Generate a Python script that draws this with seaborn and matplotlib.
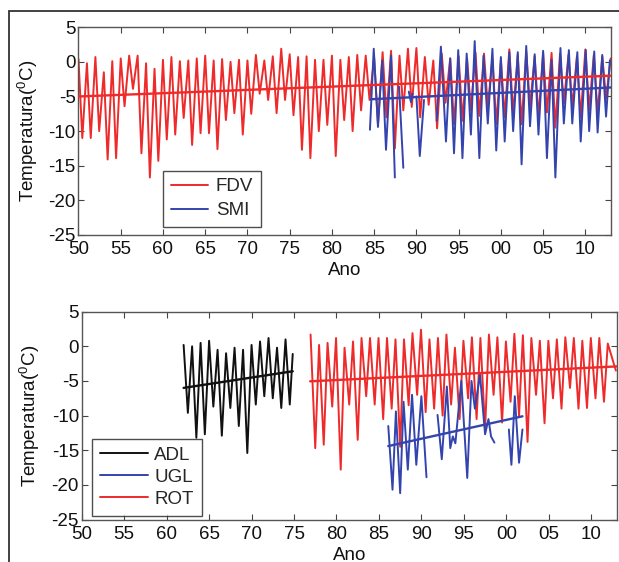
import numpy as np
import pandas as pd
import matplotlib
matplotlib.use("Agg")
import matplotlib.pyplot as plt
import seaborn as sns
from matplotlib.lines import Line2D
from matplotlib.patches import Rectangle

# ---------------- data ----------------
# Top panel: FDV (red), annual summer peaks (Jan) and winter troughs (mid-year)
fdv_peak_years = list(range(1950, 2014))
fdv_peaks = [0.4, -0.2, 0.7, -1.5, 0.1, 0.5, 0.9, 0.9, -0.2, -1.0,
             0.3, 0.7, 0.1, 0.2, 0.5, 0.9, 0.2, 0.4, 0.0, 0.3,
             0.2, 1.0, 0.2, 0.8, 1.9, 1.1, 0.7, 0.8, 0.3, 0.3,
             0.9, 0.3, 0.7, 1.0, 0.9, 0.6, 1.4, 1.6, 0.9, 1.9,
             2.0, 0.7, 0.2, 1.2, 0.5, 0.8, 0.5, 1.3, 1.2, 0.5,
             0.3, 1.8, 1.0, 1.5, 0.8, 1.3, 1.3, 1.2, 1.0, 0.8,
             1.8, 1.0, 0.8, 0.5]
fdv_trough_years = list(range(1950, 2013))
fdv_troughs = [-11.0, -11.0, -10.0, -14.1, -13.9, -6.4, -3.9, -13.2, -16.7, -14.3,
               -11.2, -10.5, -8.1, -12.0, -10.3, -10.3, -12.6, -8.4, -7.4, -10.5,
               -7.5, -4.6, -5.5, -7.4, -5.5, -7.7, -12.7, -13.9, -10.0, -9.1,
               -13.6, -8.4, -10.0, -7.0, -5.5, -9.0, -8.0, -12.5, -7.0, -6.5,
               -8.0, -6.2, -9.6, -5.9, -9.0, -8.5, -7.0, -7.8, -6.5, -9.0,
               -8.0, -7.5, -9.0, -6.5, -8.0, -7.3, -9.5, -6.0, -6.5, -8.0,
               -7.0, -7.5, -5.3]
fdv_trend_t = [1950.0, 2013.0]
fdv_trend_v = [-5.0, -2.0]

# Top panel: SMI (blue), turning points with data gaps (segment ids)
smi_t = [1984.5, 1984.95, 1985.45, 1985.95, 1986.4, 1987.0, 1987.45,
         1987.95, 1988.45,
         1989.1, 1989.35, 1989.55,
         1990.0, 1990.4, 1990.9,
         1992.4, 1992.9, 1993.5, 1994.0, 1994.45, 1994.95, 1995.45, 1995.95,
         1996.45, 1996.9, 1997.45, 1997.95, 1998.45, 1999.0, 1999.45, 2000.0,
         2000.45, 2001.0, 2001.45, 2002.0, 2002.45, 2003.0, 2003.45, 2004.0,
         2004.45, 2005.0, 2005.45, 2006.0, 2006.45, 2007.05, 2007.45, 2008.05,
         2008.45, 2009.05, 2009.45, 2010.05, 2010.45, 2011.05, 2011.45, 2012.0,
         2012.45, 2012.9]
smi_v = [-9.8, 1.9, -9.4, 0.2, -12.7, 0.9, -16.7,
         -3.6, -15.3,
         -4.3, -5.8, -4.6,
         -5.0, -13.6, -5.5,
         -8.5, 2.2, -11.5, 0.5, -13.2, 1.7, -13.9, 1.2,
         -10.5, 3.0, -13.9, 0.9, -8.9, 1.9, -12.8, 0.7,
         -11.5, 1.4, -10.0, 1.4, -14.8, 2.3, -9.3, 1.1,
         -10.5, 1.6, -13.9, 0.3, -16.7, 2.0, -8.9, 1.7,
         -8.9, 1.4, -11.5, 1.7, -10.0, 1.5, -10.2, 1.0,
         -7.9, 0.2]
smi_seg = [0] * 7 + [1] * 2 + [2] * 3 + [3] * 3 + [4] * 42
smi_trend_t = [1984.6, 2013.0]
smi_trend_v = [-5.4, -3.7]

# Bottom panel: ADL (black)
adl_peak_years = list(range(1962, 1975))
adl_peaks = [0.2, 0.0, 0.5, 0.8, -0.5, -1.0, -0.2, -0.5, 0.2, 0.7, 1.2, -0.2, 1.0]
adl_trough_years = list(range(1962, 1975))
adl_troughs = [-9.6, -13.2, -12.7, -8.7, -12.9, -8.9, -11.5, -15.4, -8.4, -7.2,
               -7.5, -8.9, -8.4]
adl_end = (1974.85, -1.1)
adl_trend_t = [1962.0, 1974.85]
adl_trend_v = [-6.0, -3.6]

# Bottom panel: UGL (blue), turning points with gaps
ugl_t = [1986.1, 1986.6, 1987.0, 1987.5, 1987.9, 1988.4, 1988.9, 1989.4, 1990.0, 1990.6,
         1991.9, 1992.4, 1993.0, 1993.4, 1993.7, 1994.0, 1994.7, 1995.4, 1995.9, 1996.3,
         1996.9, 1997.5, 1997.9, 1998.2, 1998.6,
         2000.3, 2000.6, 2001.0, 2001.5, 2001.9]
ugl_v = [-11.5, -20.7, -9.4, -21.2, -8.0, -17.8, -7.0, -17.1, -7.2, -18.9,
         -9.9, -16.3, -5.8, -14.7, -13.0, -14.0, -5.0, -19.0, -5.0, -9.0,
         -4.1, -12.7, -10.5, -13.0, -13.9,
         -12.0, -17.1, -7.2, -16.8, -12.0]
ugl_seg = [0] * 10 + [1] * 15 + [2] * 5
ugl_trend_t = [1986.1, 2001.9]
ugl_trend_v = [-14.4, -10.1]

# Bottom panel: ROT (red)
rot_peak_years = list(range(1977, 2013))
rot_peaks = [1.7, 0.2, 0.5, 1.2, -0.2, 0.7, 1.2, 1.2, 1.2, 1.2,
             1.0, 1.0, 1.9, 2.4, 1.0, 1.2, 1.7, -0.2, 0.8, 1.3,
             1.2, 1.7, 1.3, 0.7, 1.8, 1.6, 1.2, 0.8, 0.8, 1.0,
             1.3, 1.2, 0.8, 1.2, 1.2, 0.4]
rot_trough_years = list(range(1977, 2012))
rot_troughs = [-14.7, -14.2, -8.7, -17.8, -8.4, -13.5, -7.2, -8.4, -10.5, -9.0,
               -14.5, -8.5, -7.0, -9.5, -9.0, -10.0, -8.4, -10.5, -7.5, -10.5,
               -12.0, -7.0, -11.0, -8.0, -10.0, -13.8, -7.0, -11.1, -7.5, -9.0,
               -6.0, -9.0, -8.9, -7.5, -8.0]
rot_end = (2012.9, -3.5)
rot_trend_t = [1976.9, 2013.0]
rot_trend_v = [-5.05, -2.9]

xtick_years = list(range(1950, 2011, 5))
xtick_labels = ["50", "55", "60", "65", "70", "75", "80", "85", "90", "95", "00", "05", "10"]
yticks = [-25, -20, -15, -10, -5, 0, 5]


def zigzag(peak_years, peaks, trough_years, troughs, peak_off=0.0, trough_off=0.45, end=None):
    t = [y + peak_off for y in peak_years] + [y + trough_off for y in trough_years]
    v = list(peaks) + list(troughs)
    if end is not None:
        t.append(end[0]); v.append(end[1])
    df = pd.DataFrame({"t": t, "v": v}).sort_values("t")
    df["seg"] = 0
    return df


fdv_df = zigzag(fdv_peak_years, fdv_peaks, fdv_trough_years, fdv_troughs)
adl_df = zigzag(adl_peak_years, adl_peaks, adl_trough_years, adl_troughs,
                trough_off=0.5, end=adl_end)
adl_df = adl_df[adl_df.t <= adl_end[0]]
rot_df = zigzag(rot_peak_years, rot_peaks, rot_trough_years, rot_troughs,
                peak_off=-0.05, trough_off=0.5, end=rot_end)
smi_df = pd.DataFrame({"t": smi_t, "v": smi_v, "seg": smi_seg})
ugl_df = pd.DataFrame({"t": ugl_t, "v": ugl_v, "seg": ugl_seg})

# ---------------- style ----------------
sns.set_style("ticks")
plt.rcParams["font.family"] = ["Liberation Sans", "DejaVu Sans"]
plt.rcParams["mathtext.fontset"] = "custom"
plt.rcParams["mathtext.rm"] = "Liberation Sans"
plt.rcParams["axes.unicode_minus"] = False

RED = "#ee2a2a"
BLUE = "#3444ae"
BLACK = "#111111"
FS = 13.5
LW = 1.4

fig = plt.figure(figsize=(6.19, 5.62), dpi=100)
ax1 = fig.add_axes([0.1268, 0.5819, 0.8598, 0.3696])
ax2 = fig.add_axes([0.1320, 0.0756, 0.8643, 0.3698])


def line(ax, df, color, lw=LW, z=2):
    sns.lineplot(data=df, x="t", y="v", units="seg", estimator=None, color=color,
                 lw=lw, ax=ax, legend=False, zorder=z)


def trend(ax, t, v, color, z=5):
    sns.lineplot(x=t, y=v, color=color, lw=1.7, ax=ax, legend=False, zorder=z)


line(ax1, fdv_df, RED, z=2)
line(ax1, smi_df, BLUE, z=3)
trend(ax1, fdv_trend_t, fdv_trend_v, RED, z=4)
trend(ax1, smi_trend_t, smi_trend_v, BLUE, z=5)

line(ax2, adl_df, BLACK, z=2)
line(ax2, rot_df, RED, z=2)
line(ax2, ugl_df, BLUE, z=3)
trend(ax2, adl_trend_t, adl_trend_v, BLACK, z=4)
trend(ax2, rot_trend_t, rot_trend_v, RED, z=4)
trend(ax2, ugl_trend_t, ugl_trend_v, BLUE, z=5)

for ax in (ax1, ax2):
    ax.set_xlim(1950, 2013)
    ax.set_ylim(-25, 5)
    ax.set_xticks(xtick_years)
    ax.set_xticklabels(xtick_labels)
    ax.set_yticks(yticks)
    ax.set_yticklabels([str(v) for v in yticks])
    ax.tick_params(direction="in", top=True, right=True, length=4, width=0.8,
                   color="#444444", labelsize=FS, labelcolor="#111111", pad=2)
    ax.tick_params(axis="x", pad=4.5)
    for s in ax.spines.values():
        s.set_color("#555555")
        s.set_linewidth(1.0)
    ax.set_xlabel("Ano", fontsize=FS, color="#111111")
    ax.set_ylabel("Temperatura($\\mathregular{^0}$C)", fontsize=FS, color="#111111")
    ax.set_facecolor("white")

ax1.xaxis.set_label_coords(0.5, -0.13)
ax2.xaxis.set_label_coords(0.5, -0.13)
ax1.yaxis.set_label_coords(-0.072, 0.5)
ax2.yaxis.set_label_coords(-0.074, 0.5)

h1 = [Line2D([], [], color=RED, lw=LW), Line2D([], [], color=BLUE, lw=LW)]
leg1 = ax1.legend(h1, ["FDV", "SMI"], loc="lower left", bbox_to_anchor=(0.159, 0.040),
                  borderaxespad=0, fontsize=FS, frameon=True, fancybox=False,
                  edgecolor="#222222", handlelength=1.97, handletextpad=0.45,
                  borderpad=0.4, labelspacing=0.36)
leg1.get_frame().set_linewidth(1.0)
leg1.set_zorder(10)

h2 = [Line2D([], [], color=BLACK, lw=LW), Line2D([], [], color=BLUE, lw=LW),
      Line2D([], [], color=RED, lw=LW)]
leg2 = ax2.legend(h2, ["ADL", "UGL", "ROT"], loc="lower left", bbox_to_anchor=(0.019, 0.018),
                  borderaxespad=0, fontsize=FS, frameon=True, fancybox=False,
                  edgecolor="#222222", handlelength=2.56, handletextpad=0.33,
                  borderpad=0.43, labelspacing=0.26)
leg2.get_frame().set_linewidth(1.0)
leg2.set_zorder(10)

# outer frame of the figure panel (extends beyond the cropped image)
fig.patches.append(Rectangle((9 / 619, -0.5), 2.0, 0.5 + (1 - 11 / 562), fill=False,
                             transform=fig.transFigure, lw=1.3, ec="#333333",
                             clip_on=False))

fig.savefig("out.png", dpi=100, facecolor="white")
